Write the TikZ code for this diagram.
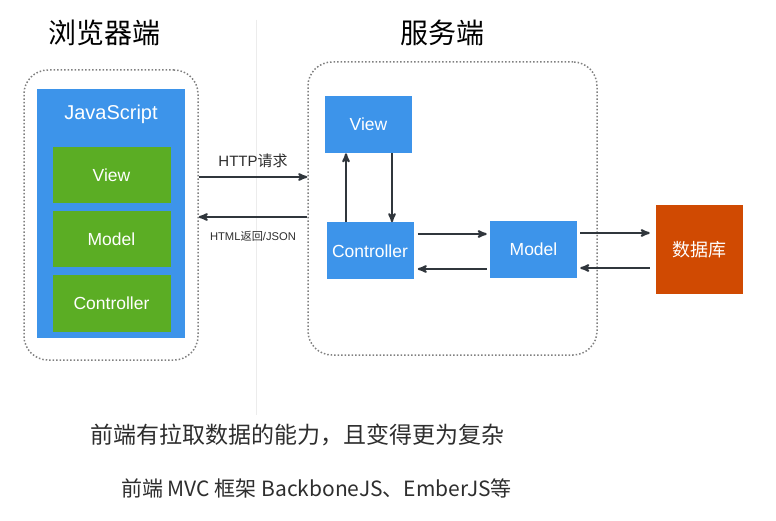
\documentclass[tikz,border=0pt]{standalone}
\usepackage{fontspec}
\setmainfont{Liberation Sans}
\newfontfamily\cjk{Noto Sans CJK SC}
\usetikzlibrary{arrows}

\definecolor{jsblue}{HTML}{3D94EA}
\definecolor{mvcgreen}{HTML}{5BAD24}
\definecolor{dbred}{HTML}{D04A02}
\definecolor{arrowgray}{HTML}{30363C}
\definecolor{textgray}{HTML}{2E2E2E}

\tikzset{
  bluebox/.style={fill=jsblue,text=white,minimum width=87pt,minimum height=57pt,inner sep=0pt,font=\fontsize{17.5}{20}\selectfont},
  greenbox/.style={fill=mvcgreen,text=white,minimum width=118pt,minimum height=56pt,inner sep=0pt,font=\fontsize{17.5}{20}\selectfont},
  dotbox/.style={draw=gray,dotted,line width=1.5pt,rounded corners=24pt,inner sep=0pt},
  flow/.style={->,draw=arrowgray,line width=2pt},
}

\begin{document}
\begin{tikzpicture}[x=1pt,y=-1pt,>=stealth',semithick]
    \useasboundingbox[fill=white] (0,0) rectangle (776,521);

    % separator
    \draw[gray!15,line width=1pt] (256,20) -- (256,415);

    % titles
    \node (tbrowser) at (104,33) {\cjk\fontsize{28}{32}\selectfont 浏览器端};
    \node (tserver)  at (442,33) {\cjk\fontsize{28}{32}\selectfont 服务端};

    % browser side
    \node (browser) [dotbox,minimum width=174pt,minimum height=290pt] at (111,215) {};
    \node (js) [fill=jsblue,minimum width=148pt,minimum height=249pt] at (111,213.5) {};
    \node (jstitle) [text=white,font=\fontsize{20}{24}\selectfont] at (111,114) {JavaScript};
    \node (jsview)  [greenbox] at (111.5,175.5) {View};
    \node (jsmodel) [greenbox] at (111.5,239.5) {Model};
    \node (jsctrl)  [greenbox] at (111.5,303.5) {Controller};

    % server side
    \node (server) [dotbox,minimum width=289pt,minimum height=293pt] at (452.5,208.5) {};
    \node (view)  [bluebox] at (368.5,124.5) {View};
    \node (ctrl)  [bluebox] at (370,251) {Controller};
    \node (model) [bluebox] at (533.5,249.5) {Model};
    \node (db) [bluebox,fill=dbred,minimum height=89pt,font=\cjk\fontsize{18}{21}\selectfont] at (699.5,249.5) {数据库};

    % requests
    \coordinate (req) at (0,177);
    \coordinate (res) at (0,217);
    \draw[flow] (browser.east |- req) -- node[above=5pt,text=textgray,font=\fontsize{15}{18}\selectfont] (reqlabel) {HTTP{\cjk 请求}} (server.west |- req);
    \draw[flow] (server.west |- res) -- node[below=10pt,text=textgray,font=\fontsize{11.2}{13}\selectfont] (reslabel) {HTML{\cjk 返回}/JSON} (browser.east |- res);

    % mvc on the server
    \draw[flow] ([xshift=-24pt]ctrl.north) -- ([xshift=-24pt]ctrl.north |- view.south);
    \draw[flow] ([xshift=22pt]ctrl.north |- view.south) -- ([xshift=22pt]ctrl.north);
    \draw[flow,shorten <=4pt,shorten >=3pt] ([yshift=17pt]ctrl.east) -- ([yshift=17pt]ctrl.east -| model.west);
    \draw[flow,shorten <=3pt,shorten >=4pt] ([yshift=-18pt]ctrl.east -| model.west) -- ([yshift=-18pt]ctrl.east);
    \draw[flow,shorten <=3pt,shorten >=6pt] ([yshift=16.5pt]model.east) -- ([yshift=16.5pt]model.east -| db.west);
    \draw[flow,shorten <=6pt,shorten >=3pt] ([yshift=-18.5pt]model.east -| db.west) -- ([yshift=-18.5pt]model.east);

    % notes
    \node (note1) [text=textgray,font=\cjk\fontsize{23}{26}\selectfont] at (297.5,435) {前端有拉取数据的能力，且变得更为复杂};
    \node (note2) [text=textgray,font=\cjk\fontsize{21}{24}\selectfont] at (316.5,488) {前端 MVC 框架 BackboneJS、EmberJS等};
\end{tikzpicture}
\end{document}
